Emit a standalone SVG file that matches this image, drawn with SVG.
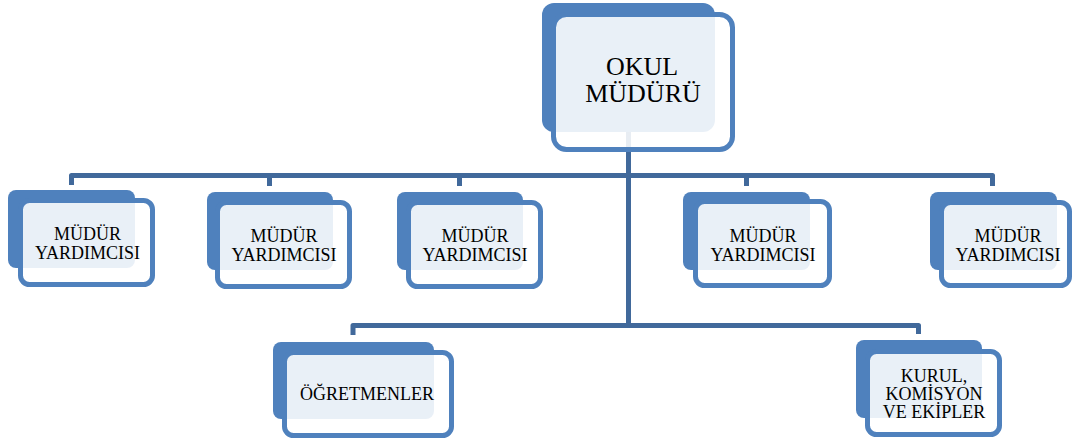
<svg xmlns="http://www.w3.org/2000/svg" width="1074" height="441" viewBox="0 0 1074 441">
<defs>
<style>
.back{fill:#4f81bd;}
.front{fill:#ffffff;fill-opacity:0.88;stroke:#4f81bd;stroke-width:5;}
.conn{fill:none;stroke:#41699b;stroke-width:5;stroke-linejoin:round;}
.t{font-family:"Liberation Serif","Times New Roman",serif;font-size:18px;fill:#000;text-anchor:middle;}
.tb{font-family:"Liberation Serif","Times New Roman",serif;font-size:26px;fill:#000;text-anchor:middle;}
</style>
</defs>
<rect width="1074" height="441" fill="#ffffff"/>
<g id="connectors">
<path class="conn" d="M628.5,132 V325.5"/>
<path class="conn" d="M71.5,185 V175.5 H992.5 V186"/>
<path class="conn" d="M269.5,175.5 V186"/>
<path class="conn" d="M459.5,175.5 V186"/>
<path class="conn" d="M746.5,175.5 V186"/>
<path class="conn" d="M353,335 V325.5 H918.5 V334"/>
</g>
<g id="okul-muduru">
<rect class="back" x="542" y="3" width="173" height="129" rx="12"/>
<rect class="front" x="553.5" y="14.5" width="179" height="135" rx="13"/>
<text class="tb" x="642" y="75">OKUL</text>
<text class="tb" x="643" y="102">MÜDÜRÜ</text>
</g>
<g id="mudur-yardimcisi-1">
<rect class="back" x="8" y="190" width="127" height="78" rx="8"/>
<rect class="front" x="20.5" y="200.5" width="132" height="84" rx="9"/>
<text class="t" x="87.5" y="240">MÜDÜR</text>
<text class="t" x="87.5" y="259">YARDIMCISI</text>
</g>
<g id="mudur-yardimcisi-2">
<rect class="back" x="207" y="192" width="126" height="78" rx="8"/>
<rect class="front" x="217.5" y="202.5" width="132" height="84" rx="9"/>
<text class="t" x="284" y="241.5">MÜDÜR</text>
<text class="t" x="284" y="260.5">YARDIMCISI</text>
</g>
<g id="mudur-yardimcisi-3">
<rect class="back" x="397" y="192" width="126" height="78" rx="8"/>
<rect class="front" x="408.5" y="202.5" width="132" height="84" rx="9"/>
<text class="t" x="475" y="241.5">MÜDÜR</text>
<text class="t" x="475" y="260.5">YARDIMCISI</text>
</g>
<g id="mudur-yardimcisi-4">
<rect class="back" x="683" y="192" width="127" height="78" rx="8"/>
<rect class="front" x="695.5" y="201.5" width="134" height="84" rx="9"/>
<text class="t" x="763" y="241.5">MÜDÜR</text>
<text class="t" x="763" y="260.5">YARDIMCISI</text>
</g>
<g id="mudur-yardimcisi-5">
<rect class="back" x="930" y="192" width="127" height="78" rx="8"/>
<rect class="front" x="941.5" y="202.5" width="128" height="83" rx="9"/>
<text class="t" x="1008" y="241.5">MÜDÜR</text>
<text class="t" x="1008" y="260.5">YARDIMCISI</text>
</g>
<g id="ogretmenler">
<rect class="back" x="273" y="342" width="161" height="77" rx="8"/>
<rect class="front" x="284.5" y="352.5" width="167" height="83" rx="9"/>
<text class="t" x="367" y="400">ÖĞRETMENLER</text>
</g>
<g id="kurul-komisyon-ekipler">
<rect class="back" x="856" y="340" width="126" height="78" rx="8"/>
<rect class="front" x="867.5" y="351.5" width="132" height="83" rx="9"/>
<text class="t" x="934" y="381.5">KURUL,</text>
<text class="t" x="934" y="399.5">KOMİSYON</text>
<text class="t" x="934" y="417.5">VE EKİPLER</text>
</g>
</svg>
